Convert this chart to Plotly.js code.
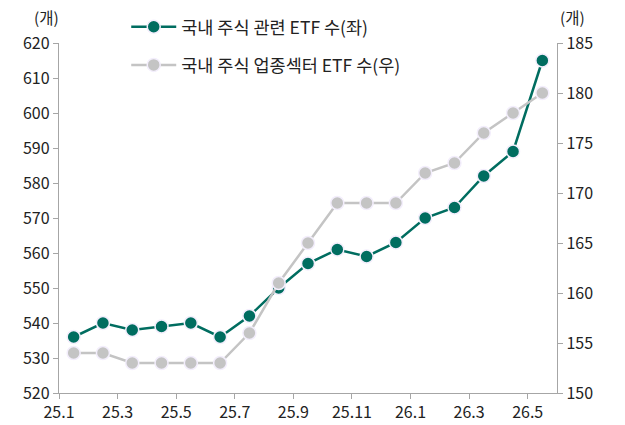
<!DOCTYPE html>
<html><head><meta charset="utf-8">
<script src="https://cdn.plot.ly/plotly-3.0.1.min.js"></script>
<style>body{margin:0;background:#fff}#c{width:625px;height:425px}</style>
</head><body><div id="c"></div>
<script>
const months = ['25.1','25.2','25.3','25.4','25.5','25.6','25.7','25.8','25.9','25.10','25.11','25.12','26.1','26.2','26.3','26.4','26.5'];
const related = [536,540,538,539,540,536,542,550,557,561,559,563,570,573,582,589,615];
const sector = [154,154,153,153,153,153,156,161,165,169,169,169,172,173,176,178,180];
const tickLabels = ['25.1','25.3','25.5','25.7','25.9','25.11','26.1','26.3','26.5'];

const xIdx = months.map((m,i)=>i);
const tickPos = tickLabels.map(t=>months.indexOf(t)-0.5);
const font = {family:'"Noto Sans CJK KR", "Noto Sans", sans-serif', color:'#222'};
const f = s => Object.assign({size:s}, font);

const traces = [
 {x:xIdx, y:sector, name:'국내 주식 업종섹터 ETF 수(우)', mode:'lines+markers', yaxis:'y2', legend:'legend2',
  line:{color:'#c4c4c4', width:2.5}, marker:{size:13, color:'#c4c4c4', line:{color:'#f3eefc', width:1.5}}},
 {x:xIdx, y:related, name:'국내 주식 관련 ETF 수(좌)', mode:'lines+markers', yaxis:'y', legend:'legend',
  line:{color:'#006d60', width:2.5}, marker:{size:13, color:'#006d60', line:{color:'#f3eefc', width:1.5}}}
];

const axisStyle = {showgrid:false, zeroline:false, showline:true, linecolor:'#a6a6a6', linewidth:1.2,
  ticks:'outside', ticklen:5, tickcolor:'#a6a6a6', tickfont:f(16)};

const layout = {
 width:625, height:425, margin:{l:59, r:68, t:43, b:32, autoexpand:false},
 paper_bgcolor:'#fff', plot_bgcolor:'#fff', font:f(16),
 showlegend:true,
 legend:{x:0.135, y:1.046, xanchor:'left', yanchor:'middle', font:f(17.5), itemwidth:45, bgcolor:'rgba(0,0,0,0)'},
 legend2:{x:0.135, y:0.937, xanchor:'left', yanchor:'middle', font:f(17.5), itemwidth:45, bgcolor:'rgba(0,0,0,0)'},
 xaxis:Object.assign({range:[-0.5,16.5], tickvals:tickPos, ticktext:tickLabels}, axisStyle),
 yaxis:Object.assign({range:[520,620], dtick:10}, axisStyle),
 yaxis2:Object.assign({range:[150,185], dtick:5, overlaying:'y', side:'right'}, axisStyle),
 annotations:[
  {text:'(개)', xref:'paper', yref:'paper', x:-0.025, y:1.074, xanchor:'center', yanchor:'middle', showarrow:false, font:f(15.5)},
  {text:'(개)', xref:'paper', yref:'paper', x:1.032, y:1.074, xanchor:'center', yanchor:'middle', showarrow:false, font:f(15.5)}
 ]
};
Plotly.newPlot('c', traces, layout, {displayModeBar:false, staticPlot:true});
</script></body></html>
